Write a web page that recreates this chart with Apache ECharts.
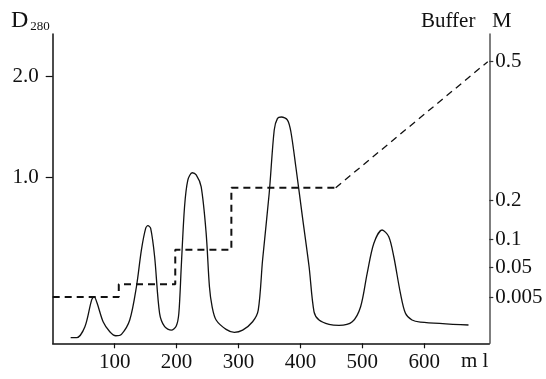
<!DOCTYPE html>
<html>
<head>
<meta charset="utf-8">
<script src="https://cdn.jsdelivr.net/npm/echarts@6/dist/echarts.min.js"></script>
<style>
	html, body { margin: 0; padding: 0; background: #fff; }
	#main { width: 546px; height: 379px; }
</style>
</head>
<body>
<div id="main"></div>
<script>
// elution volume (ml) and absorbance D280
var elutionMl = [29, 38.6, 52, 62.8, 66.9, 71.8, 81.4, 92.2, 101.9, 111, 124.4, 135.2, 143.2, 150.1, 153.8, 158.2,
	164.6, 172.6, 180.8, 191.5, 199.5, 203.7, 207.6, 212.9, 218.2, 225.3, 231.7, 239.7, 247.8, 253.1, 257.4,
	263.9, 280, 293.3, 306.7, 322.8, 331.9, 338.9, 349.6, 357.7, 363, 369.3, 379.1, 384.6, 392.6, 403.2, 414,
	422, 430.1, 446.2, 462.3, 483.7, 497.2, 507.8, 518.6, 531.9, 542.7, 550.8, 561.5, 569.6, 580.2, 593.7, 671.4];
var absorbance = [-0.573, -0.573, -0.465, -0.203, -0.17, -0.235, -0.416, -0.514, -0.554, -0.54, -0.399, -0.072, 0.289, 0.502, 0.528, 0.502,
	0.223, -0.333, -0.465, -0.498, -0.458, -0.333, 0.125, 0.715, 0.977, 1.049, 1.027, 0.912, 0.453, -0.072, -0.268,
	-0.399, -0.491, -0.52, -0.498, -0.416, -0.301, 0.191, 0.847, 1.469, 1.584, 1.597, 1.567, 1.452, 1.108, 0.617, 0.125,
	-0.318, -0.399, -0.441, -0.451, -0.416, -0.268, 0.06, 0.355, 0.486, 0.42, 0.223, -0.137, -0.333, -0.399, -0.419, -0.448];

// buffer steps (position on the buffer scale)
var stepMl = [0, 106.7, 106.7, 197.9, 197.9, 288.5, 288.5, 457];
var stepPos = [-0.173, -0.173, -0.048, -0.048, 0.292, 0.292, 0.902, 0.902];
// linear gradient to 0.5 M
var gradMl = [457, 702.5];
var gradPos = [0.902, 2.141];

// tick labels
var xTicks = [100, 200, 300, 400, 500, 600];
var yTicks = [1, 2];
var mTickPos = [-0.173, 0.122, 0.397, 0.781, 2.141];
var mTickLabels = ['0.005', '0.05', '0.1', '0.2', '0.5'];

var font = 'Liberation Serif';

function pairs(xs, ys) {
	var out = [];
	for (var i = 0; i < xs.length; i++) out.push([xs[i], ys[i]]);
	return out;
}

var myChart = echarts.init(document.getElementById('main'));
var option = {
	animation: false,
	backgroundColor: '#fff',
	grid: {
		left: 52.7,
		right: 56.7,
		top: 34,
		bottom: 35.7,
		containLabel: false,
		outerBoundsMode: 'none'
	},
	xAxis: {
		type: 'value',
		min: 0,
		max: 705,
		axisLine: { show: true, onZero: false, lineStyle: { color: '#111', width: 1.5 } },
		axisTick: { show: true, length: 5, customValues: xTicks, lineStyle: { color: '#111', width: 1.2 } },
		axisLabel: {
			customValues: xTicks,
			margin: 9,
			fontFamily: font,
			fontSize: 21,
			color: '#111'
		},
		splitLine: { show: false }
	},
	yAxis: [{
		type: 'value',
		min: -0.628,
		max: 2.413,
		axisLine: { show: true, onZero: false, lineStyle: { color: '#111', width: 1.5 } },
		axisTick: { show: true, length: 7, customValues: yTicks, lineStyle: { color: '#111', width: 1.2 } },
		axisLabel: {
			customValues: yTicks,
			margin: 14,
			fontFamily: font,
			fontSize: 21,
			color: '#111',
			formatter: function (v) { return v.toFixed(1); }
		},
		splitLine: { show: false }
	}, {
		type: 'value',
		position: 'right',
		min: -0.628,
		max: 2.413,
		axisLine: { show: true, onZero: false, lineStyle: { color: '#555', width: 1.5 } },
		axisTick: { show: true, length: 4, customValues: mTickPos, lineStyle: { color: '#333', width: 1.2 } },
		axisLabel: {
			customValues: mTickPos,
			margin: 6,
			fontFamily: font,
			fontSize: 21,
			color: '#111',
			formatter: function (v) {
				for (var i = 0; i < mTickPos.length; i++) {
					if (Math.abs(mTickPos[i] - v) < 1e-6) return mTickLabels[i];
				}
				return '';
			}
		},
		splitLine: { show: false }
	}],
	graphic: [{
		type: 'text',
		left: 11,
		top: 9,
		style: {
			text: '{d|D}{s|280}',
			rich: {
				d: { fontFamily: font, fontSize: 24, fill: '#111' },
				s: { fontFamily: font, fontSize: 13, fill: '#111', padding: [12, 0, 0, 2] }
			}
		}
	}, {
		type: 'text',
		left: 421,
		top: 11,
		style: { text: 'Buffer', fontFamily: font, fontSize: 21, fill: '#111' }
	}, {
		type: 'text',
		left: 492,
		top: 10,
		style: { text: 'M', fontFamily: font, fontSize: 22, fill: '#111' }
	}, {
		type: 'text',
		left: 461,
		top: 351,
		style: { text: 'm l', fontFamily: font, fontSize: 21, fill: '#111' }
	}],
	series: [{
		name: 'D280',
		type: 'line',
		data: pairs(elutionMl, absorbance),
		smooth: 0.3,
		symbol: 'none',
		lineStyle: { color: '#111', width: 1.3 }
	}, {
		name: 'Buffer steps',
		type: 'line',
		yAxisIndex: 1,
		data: pairs(stepMl, stepPos),
		symbol: 'none',
		lineStyle: { color: '#111', width: 2, type: [7, 5] }
	}, {
		name: 'Gradient',
		type: 'line',
		yAxisIndex: 1,
		data: pairs(gradMl, gradPos),
		symbol: 'none',
		lineStyle: { color: '#111', width: 1.3, type: [7, 5] }
	}]
};
myChart.setOption(option);
</script>
</body>
</html>
